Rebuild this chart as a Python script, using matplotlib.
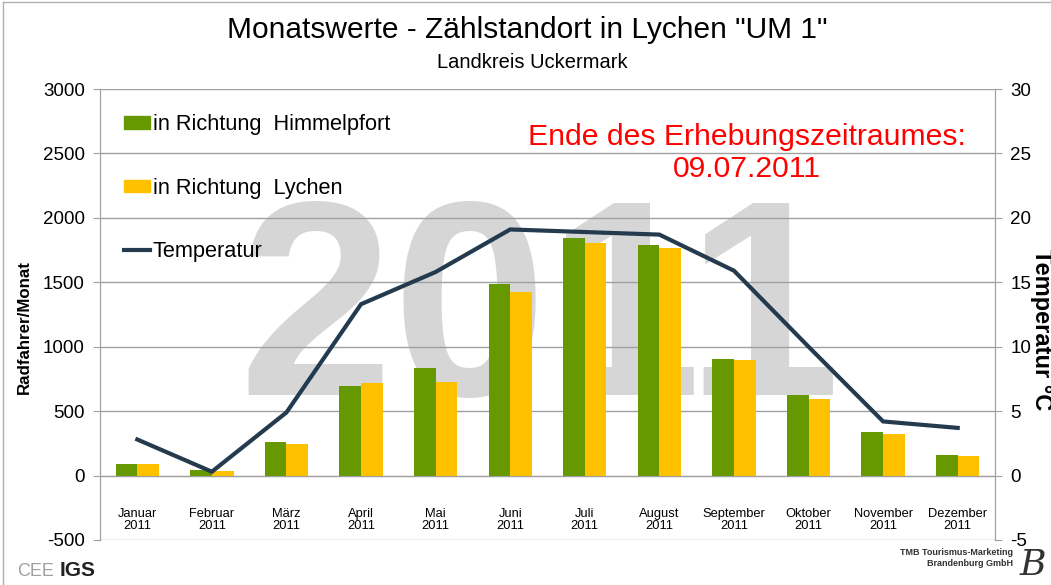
import matplotlib
matplotlib.use("Agg")
import matplotlib.pyplot as plt
from matplotlib.lines import Line2D
from matplotlib.patches import Patch
import numpy as np

plt.rcParams['font.family'] = ['Liberation Sans', 'DejaVu Sans']
plt.rcParams['axes.unicode_minus'] = False

months = ['Januar', 'Februar', 'März', 'April', 'Mai', 'Juni', 'Juli',
          'August', 'September', 'Oktober', 'November', 'Dezember']
year = '2011'
himmelpfort = [92, 45, 263, 695, 833, 1487, 1841, 1787, 907, 623, 341, 160]
lychen = [92, 35, 243, 721, 729, 1422, 1805, 1769, 900, 594, 325, 152]
temperatur = [2.8, 0.3, 4.9, 13.3, 15.8, 19.1, 18.9, 18.7, 15.9, 10.0, 4.2, 3.7]

green = '#669900'
yellow = '#ffc000'
navy = '#243b4f'
grid_c = '#a0a0a0'

fig = plt.figure(figsize=(10.51, 5.85), dpi=100)
ax = fig.add_axes([100/1051, 1-540/585, 895/1051, 451/585])
ax2 = ax.twinx()

x = np.arange(len(months))
w = 0.29
ax.set_axisbelow(True)
ax.bar(x - w/2, himmelpfort, w, color=green, zorder=2)
ax.bar(x + w/2, lychen, w, color=yellow, zorder=2)
ax2.plot(x, temperatur, color=navy, lw=3, solid_joinstyle='miter', zorder=3)

ax.set_xlim(-0.5, 11.5)
ax.set_ylim(-500, 3000)
ax.set_yticks(range(-500, 3001, 500))
ax2.set_ylim(-5, 30)
ax2.set_yticks(range(-5, 31, 5))

ax.grid(axis='y', color=grid_c, lw=1)
ax.set_facecolor('none')

# big background year
ax.text(540/1051, 1-395/585, '2011', transform=fig.transFigure, ha='center',
        va='baseline', fontsize=200, fontweight='bold', color='#d6d6d6',
        zorder=0.1, clip_on=False)

for a in (ax, ax2):
    a.spines['top'].set_visible(False)
    a.spines['left'].set_color(grid_c)
    a.spines['right'].set_color(grid_c)
    a.spines['bottom'].set_visible(False)

ax.spines['bottom'].set_visible(True)
ax.spines['bottom'].set_position(('data', 0))
ax.spines['bottom'].set_color(grid_c)

ax.set_xticks(x)
ax.set_xticklabels([m + '\n' + year for m in months], fontsize=9.3, linespacing=1.05)
ax.tick_params(axis='x', length=0, pad=23)
ax.tick_params(axis='y', length=5, color=grid_c, labelsize=13.5, pad=6)
ax2.tick_params(axis='y', length=5, color=grid_c, labelsize=13.5, pad=6)

fig.text(24/1051, 1-327/585, 'Radfahrer/Monat', rotation=90, ha='center',
         va='center', fontsize=12.2, fontweight='bold')
fig.text(1041/1051, 1-330/585, 'Temperatur °C', rotation=270, ha='center',
         va='center', fontsize=17, fontweight='bold')

fig.text(527/1051, 1-30/585, 'Monatswerte - Zählstandort in Lychen "UM 1"',
         ha='center', va='center', fontsize=21.5)
fig.text(532/1051, 1-62/585, 'Landkreis Uckermark', ha='center', va='center',
         fontsize=14.5)

fig.text(747/1051, 1-153/585, 'Ende des Erhebungszeitraumes:\n09.07.2011',
         ha='center', va='center', fontsize=21.7, color='#ff0000',
         linespacing=1.2, multialignment='center')

handles = [Patch(color=green), Patch(color=yellow),
           Line2D([0], [0], color=navy, lw=3)]
labels = ['in Richtung  Himmelpfort', 'in Richtung  Lychen', 'Temperatur']
ax2.legend(handles, labels, loc='upper left', bbox_to_anchor=(0.027, 0.944),
           frameon=False, fontsize=15.7, labelspacing=1.95, handlelength=1.2,
           handleheight=0.5, handletextpad=0.1, borderpad=0, borderaxespad=0)

# frame of the chart area
fig.add_artist(Line2D([3/1051, 3/1051], [0, 1-2/585], color='#b0b0b0', lw=1))
fig.add_artist(Line2D([3/1051, 1], [1-2/585, 1-2/585], color='#b0b0b0', lw=1))

# logos (text approximations)
fig.text(17/1051, 1-571/585, 'CEE', ha='left', va='center', fontsize=13,
         color='#a0a0a0', fontweight='light')
fig.text(60/1051, 1-571/585, 'IGS', ha='left', va='center', fontsize=15,
         color='#222222', fontweight='bold')
fig.text(1013/1051, 1-558/585, 'TMB Tourismus-Marketing\nBrandenburg GmbH',
         ha='right', va='center', fontsize=6.5, fontweight='bold',
         color='#333333', linespacing=1.3, multialignment='right')
fig.text(1033/1051, 1-565/585, 'B', ha='center', va='center', fontsize=26,
         fontstyle='italic', family='DejaVu Serif', color='#333333')

fig.savefig('out.png', dpi=100)
